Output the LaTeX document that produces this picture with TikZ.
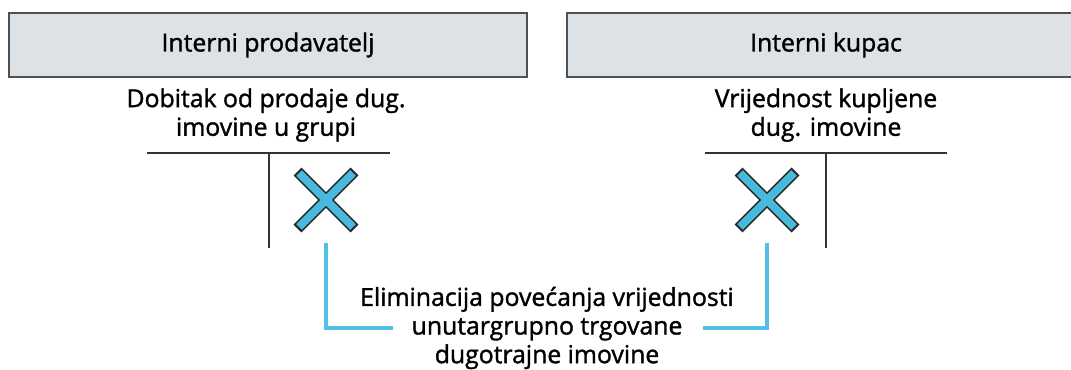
\documentclass[tikz,border=0pt]{standalone}
\usepackage{fontspec}
\setmainfont{Open Sans}[FakeBold=1.4]
\usepackage{tikz}
\usetikzlibrary{positioning,calc}
\definecolor{headfill}{RGB}{220,226,229}
\definecolor{headdraw}{RGB}{80,80,80}
\definecolor{crossblue}{RGB}{72,186,222}
\definecolor{linkblue}{RGB}{82,192,230}

\begin{document}
\begin{tikzpicture}[
    header/.style={draw=headdraw, line width=1.1pt, fill=headfill, minimum width=10.36cm,
        minimum height=1.28cm, inner sep=0pt, font=\fontsize{14.1}{16}\selectfont},
    title/.style={align=center, font=\fontsize{14.1}{16.3}\selectfont},
    tline/.style={line width=0.8pt, draw=black!80},
    xmark/.style={minimum size=1.7cm, inner sep=0pt},
    link/.style={linkblue, line width=2pt}
]
    \clip (0,0) rectangle (21.42,7.38);

    % Header boxes
    \node[header] (seller) at (5.36,6.48) {Interni prodavatelj};
    \node[header] (buyer) at (16.52,6.48) {Interni kupac};

    % Account titles
    \node[title] (gain) at (5.32,5.08) {Dobitak od prodaje dug.\\imovine u grupi};
    \node[title] (asset) at (16.52,5.08) {Vrijednost kupljene\\dug. imovine};

    % T-accounts
    \draw[tline] (2.94,4.32) -- (7.80,4.32);
    \draw[tline] (5.38,4.32) -- (5.38,2.42);
    \draw[tline] (14.10,4.32) -- (18.94,4.32);
    \draw[tline] (16.52,4.32) -- (16.52,2.42);

    % Crosses
    \node[xmark] (xgain) at (6.52,3.38) {};
    \node[xmark] (xasset) at (15.34,3.38) {};
    \foreach \n in {xgain,xasset} {
        \draw[black!85, line width=0.22cm] (\n.center) ++(-0.57,0.57) -- ++(1.14,-1.14);
        \draw[black!85, line width=0.22cm] (\n.center) ++(-0.57,-0.57) -- ++(1.14,1.14);
        \draw[crossblue, line width=0.16cm] (\n.center) ++(-0.54,0.54) -- ++(1.08,-1.08);
        \draw[crossblue, line width=0.16cm] (\n.center) ++(-0.54,-0.54) -- ++(1.08,1.08);
    }

    % Elimination note
    \node[title] (elim) at (10.94,0.82) {Eliminacija povećanja vrijednosti\\unutargrupno trgovane\\dugotrajne imovine};
    \coordinate (endL) at (7.86,0.82);
    \coordinate (endR) at (14.06,0.82);
    \draw[link] (xgain.south) |- (endL);
    \draw[link] (xasset.south) |- (endR);
\end{tikzpicture}
\end{document}
